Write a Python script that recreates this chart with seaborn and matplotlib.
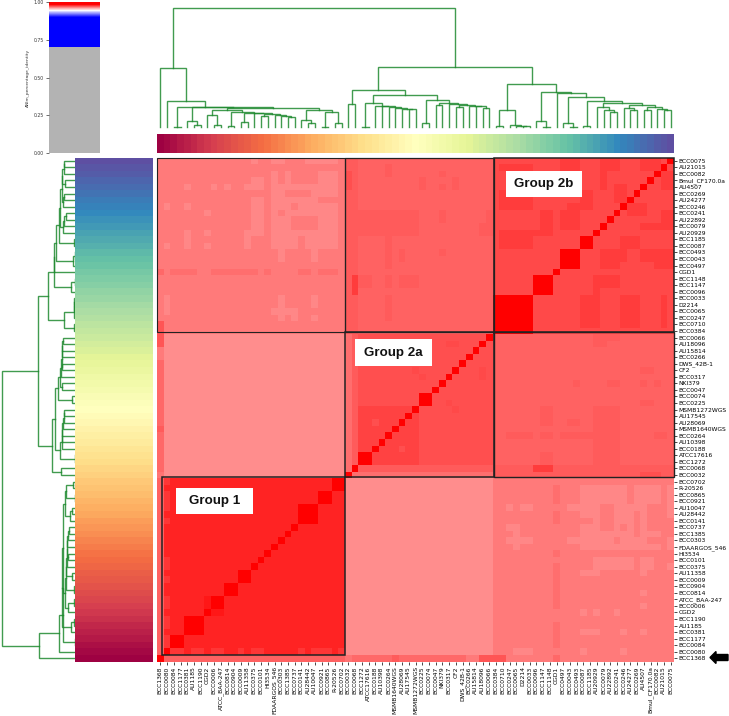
import numpy as np
import matplotlib
matplotlib.use("Agg")
import matplotlib.pyplot as plt
from matplotlib.colors import LinearSegmentedColormap
from matplotlib.patches import Rectangle, FancyArrow
import seaborn as sns

# ---- strains in column order (rows are the reverse) ----
STRAINS = ["BCC1368", "BCC0080", "BCC0084", "BCC1177", "BCC0381", "AU1185", "BCC1190", "CGD2",
           "BCC0006", "ATCC_BAA-247", "BCC0814", "BCC0904", "BCC0009", "AU11358", "BCC0375",
           "BCC0101", "HI3534", "FDAARGOS_546", "BCC0303", "BCC1385", "BCC0737", "BCC0141",
           "AU28442", "AU10047", "BCC0921", "BCC0865", "R-20526", "BCC0702",
           "BCC0032", "BCC0068", "BCC1272", "ATCC17616", "BCC0188", "AU10398", "BCC0264",
           "MSMB1640WGS", "AU28069", "AU17545", "MSMB1272WGS", "BCC0225", "BCC0074", "BCC0047",
           "NKI379", "BCC0317", "CF2", "DWS_42B-1", "BCC0266", "AU15814", "AU18096", "BCC0066",
           "BCC0384", "BCC0710", "BCC0247", "BCC0065", "D2214", "BCC0033", "BCC0096", "BCC1147",
           "BCC1148", "CGD1", "BCC0497", "BCC0043", "BCC0493", "BCC0087", "BCC1185", "AU20929",
           "BCC0079", "AU22892", "BCC0241", "BCC0246", "AU24277", "BCC0269", "AU4507",
           "Bmul_CF170.0a", "BCC0082", "AU21015", "BCC0075"]

# ---- block identity levels ----
ID_G1, ID_G2A, ID_G2B = 0.9787, 0.9717, 0.9733
ID_2A_2B, ID_1_2B, ID_1_2A = 0.9693, 0.9654, 0.9622
GROUP_1 = (0, 27)
GROUP_2A = (28, 49)
GROUP_2B = (50, 76)

# ---- near-identical clusters along the diagonal ----
CLONES = [(2, 3), (4, 6), (8, 9), (10, 11), (12, 13), (21, 23), (24, 25), (26, 27),
          (30, 31), (39, 40), (50, 55), (56, 58), (60, 62), (63, 64)]

# ---- patches: first strain a..b, row r1..r2 (row 0 is BCC0075), identity ----
PATCHES_1_2B = [
    (17, 26, 4, 13, .9635), (17, 17, 2, 3, .9635), (19, 19, 2, 3, .9635), (24, 26, 2, 3, .9635),
    (14, 14, 0, 0, .9635), (17, 18, 0, 0, .9635), (22, 26, 0, 0, .9635),
    (19, 22, 5, 5, .9654), (24, 26, 6, 6, .9654), (20, 20, 7, 7, .9654), (18, 18, 8, 8, .9654),
    (20, 23, 9, 10, .9654), (21, 21, 12, 13, .9654),
    (18, 18, 14, 15, .9635), (23, 23, 14, 15, .9635), (14, 15, 3, 3, .9635), (13, 15, 4, 4, .9635),
    (14, 15, 6, 10, .9635), (13, 13, 11, 13, .9635), (14, 15, 11, 11, .9635),
    (4, 4, 4, 4, .9635), (8, 8, 4, 4, .9635), (10, 10, 4, 4, .9635), (1, 1, 7, 7, .9635),
    (4, 4, 7, 7, .9635), (7, 7, 8, 8, .9635), (7, 7, 11, 11, .9635), (4, 4, 11, 13, .9635),
    (1, 1, 13, 13, .9635), (7, 7, 13, 13, .9635),
    (1, 1, 21, 23, .9635), (18, 18, 21, 24, .9635), (17, 20, 23, 23, .9635), (20, 20, 24, 24, .9635),
    (23, 23, 21, 22, .9635), (23, 23, 24, 24, .9635),
    (0, 0, 17, 17, .9668), (2, 5, 17, 17, .9668), (8, 14, 17, 17, .9668), (16, 16, 17, 17, .9668),
    (21, 22, 17, 17, .9668), (24, 26, 17, 17, .9668), (0, 0, 25, 26, .9685),
]
PATCHES_2A_2B = [
    (28, 29, 0, 26, .9703), (28, 28, 3, 4, .9717), (34, 34, 1, 2, .9705), (39, 39, 3, 4, .9705),
    (42, 42, 2, 2, .9705), (42, 42, 4, 4, .9705), (44, 44, 3, 4, .9705), (29, 38, 8, 11, .9705),
    (42, 42, 8, 9, .9705), (48, 49, 10, 11, .9705), (49, 49, 8, 9, .9705), (34, 34, 12, 16, .9705),
    (36, 36, 14, 15, .9705), (42, 42, 14, 14, .9705), (29, 31, 18, 19, .9705), (34, 34, 18, 19, .9705),
    (36, 38, 18, 19, .9705), (34, 34, 21, 24, .9705), (29, 29, 18, 19, .9725), (56, 58, 47, 47, .9750),
    (72, 74, 48, 48, .9725),
]
PATCHES_2B = [
    (52, 55, 1, 1, .9750), (60, 62, 0, 1, .9750), (66, 68, 0, 1, .9750), (66, 66, 2, 4, .9750),
    (72, 74, 0, 1, .9750), (68, 69, 4, 6, .9750), (52, 55, 6, 7, .9750), (57, 58, 8, 11, .9750),
    (60, 62, 8, 10, .9750), (53, 58, 11, 11, .9750), (52, 55, 12, 13, .9750), (69, 71, 12, 13, .9750),
    (66, 69, 14, 15, .9750), (72, 76, 14, 15, .9750), (74, 76, 16, 16, .9750), (65, 68, 18, 19, .9750),
    (63, 65, 21, 25, .9750), (69, 71, 21, 25, .9750), (75, 75, 21, 25, .9750), (75, 76, 8, 10, .9750),
    (72, 75, 10, 10, .9750),
]
PATCHES_2A = [
    (30, 38, 38, 46, .9738), (28, 28, 27, 47, .9677), (29, 29, 27, 46, .9700), (44, 44, 28, 28, .9730),
    (39, 39, 33, 33, .9730), (48, 48, 33, 33, .9730), (44, 44, 38, 38, .9730), (32, 32, 40, 40, .9717),
]
PATCHES_S0 = [
    (1, 27, 76, 76, .9693), (28, 49, 76, 76, .9662), (29, 45, 76, 76, .9680), (35, 35, 76, 76, .9705),
    (46, 47, 76, 76, .9650), (48, 51, 76, 76, .9710), (59, 59, 76, 76, .9680),
]
PATCHES_S1 = [
    (2, 3, 75, 75, .9756), (5, 6, 75, 75, .9756), (8, 9, 75, 75, .9756), (12, 12, 75, 75, .9756),
    (14, 15, 75, 75, .9756), (21, 21, 75, 75, .9756), (23, 25, 75, 75, .9756), (27, 27, 75, 75, .9756),
]

# ---- linkage tree: (height, left, right), integers are strains ----
TREE_G1 = (.493, 0, (.218, 1, (.165, (.003, 2, 3), (.171, (.05, 4, (.014, 5, 6)), (.157,
          (.14, (.098, 7, (.017, 8, 9)), (.129, (.008, 10, 11), (.12, (.042, 12, 13),
           (.115, 14, (.109, (.095, 15, 16), (.104, 17, (.09, 18, (.085, 19, 20)))))))),
          (.14, (.062, 21, (.036, 22, 23)), (.129, (.003, 24, 25), (.031, 26, 27))))))))
TREE_G2A = (.308, (.19, 28, 29), (.272,
            (.204, (.003, 30, 31), (.176, 32, (.176, 33, (.171, 34, (.162, 35, (.154, 36, (.148, 37, 38))))))),
            (.227, (.036, 39, 40), (.199, (.182, 41, 42), (.193, 43, (.182, (.171, 44, 45),
             (.176, 46, (.176, 47, (.157, 48, 49)))))))))
TREE_G2B = (.364, (.146, (.008, 50, 51), (.017, 52, (.012, 53, (.008, 54, 55)))),
            (.291, (.053, 56, (.003, 57, 58)), (.289, 59, (.252, (.034, 60, (.003, 61, 62)),
             (.218, (.008, 63, 64), (.199, (.165, 65, (.143, 66, (.123, 67, 68))),
              (.182, (.162, 69, (.143, 70, 71)), (.171, (.14, 72, 73), (.148, 74, (.143, 75, 76))))))))))
TREE = (1.0, TREE_G1, (.507, TREE_G2A, TREE_G2B))

GROUP_TEXT = ["Group 1", "Group 2a", "Group 2b"]
CBAR_TICKS = [0.0, 0.25, 0.5, 0.75, 1.0]

# ---- build identity matrix ----
n = len(STRAINS)
ani = np.full((n, n), ID_1_2A)
def block(a, b, v):
    ani[a[0]:a[1] + 1, b[0]:b[1] + 1] = v
    ani[b[0]:b[1] + 1, a[0]:a[1] + 1] = v
block(GROUP_1, GROUP_2B, ID_1_2B)
block(GROUP_2A, GROUP_2B, ID_2A_2B)
block(GROUP_1, GROUP_1, ID_G1)
block(GROUP_2A, GROUP_2A, ID_G2A)
block(GROUP_2B, GROUP_2B, ID_G2B)
for plist in (PATCHES_1_2B, PATCHES_2A_2B, PATCHES_2B, PATCHES_2A, PATCHES_S0, PATCHES_S1):
    for a, b, r1, r2, v in plist:
        t0, t1 = n - 1 - r2, n - 1 - r1
        ani[a:b + 1, t0:t1 + 1] = v
        ani[t0:t1 + 1, a:b + 1] = v
ani[7, 8:10] = ani[8:10, 7] = 0.981
for a, b in CLONES:
    ani[a:b + 1, a:b + 1] = 1.0
np.fill_diagonal(ani, 1.0)

# ---- colour map ----
cmap = LinearSegmentedColormap("anim", {
    "red":   [(0, .7, .7), (.7, .7, 0), (.9, 0, 0), (.945, 1, 1), (1, 1, 1)],
    "green": [(0, .7, .7), (.7, .7, 0), (.9, 0, 0), (.945, 1, 1), (.985, 0, 0), (1, 0, 0)],
    "blue":  [(0, .7, .7), (.7, .7, 1), (.9, 1, 1), (.945, 1, 1), (.985, 0, 0), (1, 0, 0)],
}, N=1024)

W, H = 729, 716
fig = plt.figure(figsize=(W / 100, H / 100), dpi=100)
def axpx(x0, y0, x1, y1):
    return fig.add_axes([x0 / W, 1 - y1 / H, (x1 - x0) / W, (y1 - y0) / H])

ax_main = axpx(157, 157.5, 674, 661.5)
ax_cbar = axpx(49, 2, 100, 153)
ax_top = axpx(157, 5, 674, 127)
ax_left = axpx(1.5, 157.5, 75, 661.5)
ax_cstrip = axpx(157, 134, 674, 153)
ax_rstrip = axpx(75, 157.5, 153, 661.5)

# main heat map: rows reversed against columns
sns.heatmap(ani[::-1, :], ax=ax_main, cmap=cmap, vmin=0, vmax=1, cbar_ax=ax_cbar,
            xticklabels=STRAINS, yticklabels=STRAINS[::-1], rasterized=True)
ax_main.yaxis.tick_right()
ax_main.tick_params(axis="y", labelsize=4.35, length=2, width=0.5, pad=1.5, labelrotation=0)
ax_main.tick_params(axis="x", labelsize=4.35, length=2, width=0.5, pad=1.5, labelrotation=90)

# colour bar
ax_cbar.yaxis.set_ticks_position("left")
ax_cbar.yaxis.set_label_position("left")
ax_cbar.set_yticks(CBAR_TICKS)
ax_cbar.set_yticklabels(["%.2f" % t for t in CBAR_TICKS])
ax_cbar.tick_params(axis="y", labelsize=3.3, length=2, width=0.5, pad=1.5, colors="#333333")
ax_cbar.set_ylabel("ANIm_percentage_identity", fontsize=3.2, labelpad=3, color="#333333")
for sp in ax_cbar.spines.values():
    sp.set_visible(False)

# colour strips
order = np.arange(n)
sns.heatmap(order[None, :], ax=ax_cstrip, cmap="Spectral", cbar=False, xticklabels=False, yticklabels=False)
sns.heatmap(order[::-1, None], ax=ax_rstrip, cmap="Spectral", cbar=False, xticklabels=False, yticklabels=False)

# dendrograms
segments = []
def layout(node):
    if isinstance(node, int):
        return node + 0.5, 0.0
    h, left, right = node
    xl, hl = layout(left)
    xr, hr = layout(right)
    segments.append(([xl, xl, xr, xr], [hl, h, h, hr]))
    return (xl + xr) / 2, h
layout(TREE)
LINE = dict(color="#1f8a30", lw=1.0, alpha=0.85, solid_joinstyle="miter", clip_on=False)
for xs, hs in segments:
    ax_top.plot(xs, hs, **LINE)
    ax_left.plot(hs, [n - x for x in xs], **LINE)
ax_top.set_xlim(0, n)
ax_top.set_ylim(0, 122 / 119)
ax_left.set_xlim(1, 0)
ax_left.set_ylim(n, 0)
ax_top.axis("off")
ax_left.axis("off")

# group frames (data units of the heat map)
frames = [(0.7, 48.8, 28, 76, 1.1), (28, 26.7, 50.2, 48.8, 1.1), (50.2, 0, 77, 26.7, 1.1),
          (50.2, 26.7, 77, 48.8, 1.0), (0, 0, 28, 26.7, 0.8), (28, 0, 50.2, 26.7, 0.9)]
for x0, y0, x1, y1, lw in frames:
    ax_main.add_patch(Rectangle((x0, y0), x1 - x0, y1 - y0, fill=False, ec="#222222", lw=lw,
                                clip_on=False, zorder=5))

# group labels
boxes = [(2.83, 50.5, 14.3, 54.5), (29.5, 27.7, 41.0, 31.85), (52.0, 2.06, 63.3, 6.03)]
for (x0, y0, x1, y1), label in zip(boxes, GROUP_TEXT):
    ax_main.add_patch(Rectangle((x0, y0), x1 - x0, y1 - y0, fc="white", ec="none", zorder=6))
    ax_main.text((x0 + x1) / 2, (y0 + y1) / 2 + 0.05, label, ha="center", va="center", zorder=7,
                 fontsize=9.6, fontweight="bold", family="Liberation Sans", color="#111111")

# arrow pointing at BCC1368
fig.add_artist(FancyArrow(728 / W, 1 - 657.5 / H, -18 / W, 0, width=6 / H, head_width=12 / H,
                          head_length=6 / W, length_includes_head=True, color="black",
                          transform=fig.transFigure))

fig.savefig("out.png", dpi=100)
